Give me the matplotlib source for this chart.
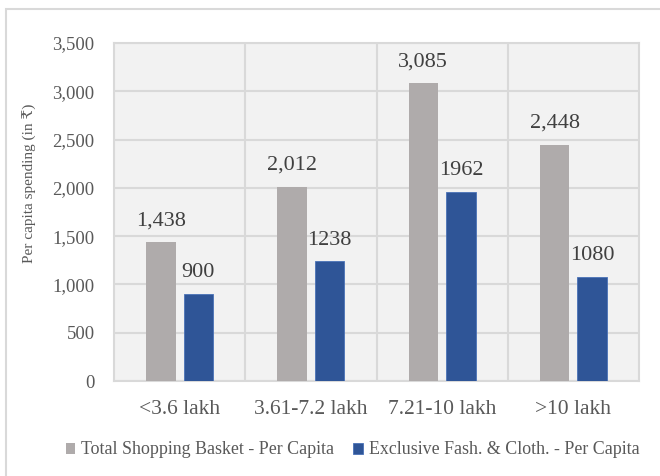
import matplotlib
matplotlib.use("Agg")
import matplotlib.pyplot as plt
from matplotlib.patches import Rectangle
import numpy as np

# income groups and per capita spending (in rupees)
groups = ["<3.6 lakh", "3.61-7.2 lakh", "7.21-10 lakh", ">10 lakh"]
total_basket = [1438, 2012, 3085, 2448]
fashion_cloth = [900, 1238, 1962, 1080]
total_labels = ["1,438", "2,012", "3,085", "2,448"]
fashion_labels = ["900", "1238", "1962", "1080"]
series_names = ["Total Shopping Basket - Per Capita",
                "Exclusive Fash. & Cloth. - Per Capita"]

gray = "#afabab"
blue = "#2f5597"
grid_col = "#d9d9d9"
text_col = "#595959"
label_col = "#404040"

plt.rcParams["font.family"] = ["Liberation Serif", "DejaVu Serif"]

fig = plt.figure(figsize=(6.6, 4.76), dpi=100)
ax = fig.add_axes([114 / 660, 1 - 381 / 476, 525 / 660, 338 / 476])
ax.set_facecolor("#f2f2f2")

# chart frame
fig.patches.append(Rectangle((6 / 660, -0.1), 1.1, 1 - 9 / 476 + 0.1,
                             transform=fig.transFigure, fill=False,
                             edgecolor=grid_col, linewidth=1.5))

x = np.arange(len(groups))
w = 0.225
off = 0.143
b1 = ax.bar(x - off, total_basket, w, color=gray, label=series_names[0], zorder=3)
b2 = ax.bar(x + off, fashion_cloth, w, color=blue, label=series_names[1],
            edgecolor="#4a72b8", linewidth=0.6, zorder=3)

for xi, v, t in zip(x - off, total_basket, total_labels):
    ax.annotate(t, (xi, v), xytext=(0, 12), textcoords="offset points",
                ha="center", va="baseline", fontsize=16, color=label_col)
for xi, v, t in zip(x + off, fashion_cloth, fashion_labels):
    ax.annotate(t, (xi, v), xytext=(0, 12), textcoords="offset points",
                ha="center", va="baseline", fontsize=16, color=label_col)

ax.set_xlim(-0.5, len(groups) - 0.5)
ax.set_ylim(0, 3500)
ax.set_yticks(np.arange(0, 3501, 500))
ax.set_yticklabels([f"{v:,}" for v in range(0, 3501, 500)])
ax.set_xticks(x)
ax.set_xticklabels(groups)
ax.tick_params(axis="y", length=0, pad=14, labelsize=13.5, labelcolor=text_col)
ax.tick_params(axis="x", length=0, pad=14, labelsize=15.5, labelcolor=text_col)

ax.grid(axis="y", color=grid_col, linewidth=1.5, zorder=0)
for xb in x[:-1] + 0.5:
    ax.axvline(xb, color=grid_col, linewidth=1.5, zorder=0)
for s in ax.spines.values():
    s.set_color(grid_col)
    s.set_linewidth(1.5)

fig.text(30 / 660, 1 - 183 / 476, "Per capita spending (in ₹)", fontsize=11,
         color=text_col, rotation=90, ha="center", va="center")

fig.legend(handles=[b1, b2], loc="center", bbox_to_anchor=(0.534, 1 - 450 / 476),
           ncol=2, frameon=False, fontsize=12.9, labelcolor=text_col,
           handlelength=0.55, handleheight=0.55, handletextpad=0.3,
           columnspacing=1.1, borderpad=0)

fig.savefig("out.png", dpi=100)
